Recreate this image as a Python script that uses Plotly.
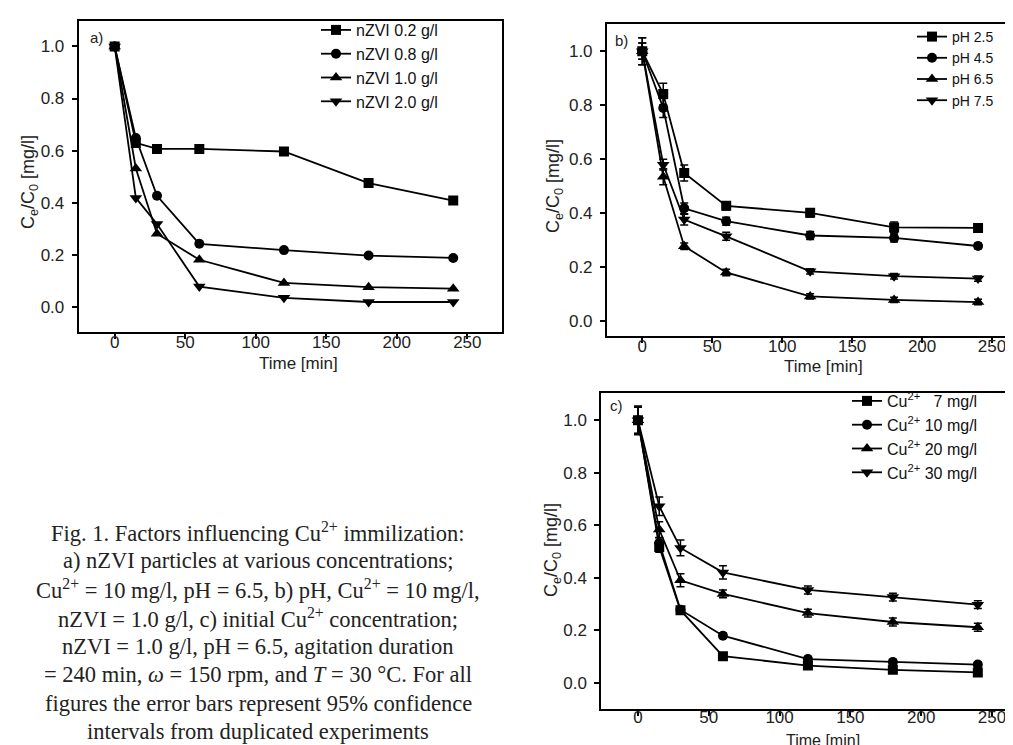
import plotly.graph_objects as go

time = [0, 15, 30, 60, 120, 180, 240]

# a) nZVI dose
nzvi_labels = ['nZVI 0.2 g/l', 'nZVI 0.8 g/l', 'nZVI 1.0 g/l', 'nZVI 2.0 g/l']
nzvi_02 = [1.0, 0.63, 0.607, 0.607, 0.597, 0.476, 0.409]
nzvi_08 = [1.0, 0.649, 0.427, 0.243, 0.219, 0.198, 0.189]
nzvi_10 = [1.0, 0.532, 0.282, 0.182, 0.093, 0.077, 0.071]
nzvi_20 = [1.0, 0.419, 0.319, 0.079, 0.036, 0.020, 0.020]

# b) pH
ph_labels = ['pH 2.5', 'pH 4.5', 'pH 6.5', 'pH 7.5']
ph_25 = [1.0, 0.841, 0.548, 0.426, 0.400, 0.346, 0.344]
ph_45 = [1.0, 0.789, 0.417, 0.369, 0.316, 0.307, 0.277]
ph_65 = [1.0, 0.534, 0.276, 0.179, 0.090, 0.077, 0.069]
ph_75 = [1.0, 0.579, 0.375, 0.313, 0.183, 0.165, 0.156]
ph_25_err = [0.05, 0.04, 0.03, 0.015, 0.015, 0.02, 0.012]
ph_45_err = [0.05, 0.035, 0.02, 0.015, 0.015, 0.015, 0.01]
ph_65_err = [0.03, 0.03, 0.012, 0.012, 0.01, 0.01, 0.01]
ph_75_err = [0.03, 0.02, 0.02, 0.015, 0.01, 0.01, 0.01]

# c) initial Cu2+
cu_labels = ['Cu<sup>2+</sup>   7 mg/l', 'Cu<sup>2+</sup> 10 mg/l',
             'Cu<sup>2+</sup> 20 mg/l', 'Cu<sup>2+</sup> 30 mg/l']
cu_07 = [1.0, 0.518, 0.277, 0.102, 0.066, 0.050, 0.040]
cu_10 = [1.0, 0.533, 0.279, 0.180, 0.091, 0.080, 0.070]
cu_20 = [1.0, 0.584, 0.391, 0.339, 0.266, 0.232, 0.212]
cu_30 = [1.0, 0.673, 0.514, 0.421, 0.354, 0.327, 0.298]
cu_07_err = [0.05, 0.02, 0.012, 0.01, 0.01, 0.01, 0.01]
cu_10_err = [0.05, 0.02, 0.012, 0.01, 0.01, 0.01, 0.01]
cu_20_err = [0.05, 0.03, 0.025, 0.015, 0.015, 0.015, 0.015]
cu_30_err = [0.055, 0.035, 0.03, 0.025, 0.015, 0.015, 0.015]

caption_lines = [
    'Fig. 1. Factors influencing Cu<sup>2+</sup> immilization:',
    'a) nZVI particles at various concentrations;',
    'Cu<sup>2+</sup> = 10 mg/l, pH = 6.5, b) pH, Cu<sup>2+</sup> = 10 mg/l,',
    'nZVI = 1.0 g/l, c) initial Cu<sup>2+</sup> concentration;',
    'nZVI = 1.0 g/l, pH = 6.5, agitation duration',
    '= 240 min, <i>ω</i> = 150 rpm, and <i>T</i> = 30 °C. For all',
    'figures the error bars represent 95% confidence',
    'intervals from duplicated experiments',
]

symbols = ['square', 'circle', 'triangle-up', 'triangle-down']

fig = go.Figure()

def add_panel(n, labels, series, errors=None):
    xa = 'x' if n == 1 else 'x%d' % n
    ya = 'y' if n == 1 else 'y%d' % n
    lg = 'legend' if n == 1 else 'legend%d' % n
    for i, (lab, ys) in enumerate(zip(labels, series)):
        err = None
        if errors is not None:
            err = dict(type='data', array=errors[i], visible=True,
                       color='black', thickness=1.5, width=4)
        fig.add_trace(go.Scatter(
            x=time, y=ys, name=lab, mode='lines+markers',
            line=dict(color='black', width=1.8),
            marker=dict(symbol=symbols[i], size=10 if i < 2 else 11, color='black'),
            error_y=err, xaxis=xa, yaxis=ya, legend=lg))

add_panel(1, nzvi_labels, [nzvi_02, nzvi_08, nzvi_10, nzvi_20])
add_panel(2, ph_labels, [ph_25, ph_45, ph_65, ph_75],
          [ph_25_err, ph_45_err, ph_65_err, ph_75_err])
add_panel(3, cu_labels, [cu_07, cu_10, cu_20, cu_30],
          [cu_07_err, cu_10_err, cu_20_err, cu_30_err])

W, H = 1013, 745
tickfont = dict(family='Liberation Sans, Arial', size=17, color='#222')

def xaxis(dom, rng, anchor, standoff=-11):
    return dict(domain=dom, range=rng, anchor=anchor, showline=True, linewidth=2,
                linecolor='black', mirror=True, ticks='outside', ticklen=5,
                tickwidth=1.5, tickcolor='black', tickvals=[0, 50, 100, 150, 200, 250],
                ticklabelstandoff=standoff, showgrid=False, zeroline=False, tickfont=tickfont)

def yaxis(dom, rng, anchor, mirror):
    return dict(domain=dom, range=rng, anchor=anchor, showline=True, linewidth=2,
                linecolor='black', mirror=mirror, ticks='outside', ticklen=5,
                tickwidth=1.5, tickcolor='black', tickvals=[0, 0.2, 0.4, 0.6, 0.8, 1.0],
                ticklabelstandoff=4, tickformat='.1f', showgrid=False, zeroline=False,
                tickfont=tickfont)

def legend(x_px, y_px, size):
    return dict(x=x_px / W, y=1 - y_px / H, xanchor='left', yanchor='top',
                bgcolor='rgba(0,0,0,0)', borderwidth=0, itemwidth=30,
                font=dict(family='Liberation Sans, Arial', size=size, color='#111'))

def label(text, x_px, y_px, size=17, angle=0, xanchor='center', font='Liberation Sans, Arial'):
    return dict(text=text, x=x_px / W, y=1 - y_px / H, xref='paper', yref='paper',
                showarrow=False, textangle=angle, xanchor=xanchor, yanchor='middle',
                font=dict(family=font, size=size, color='#222'))

ytitle = 'C<sub>e</sub>/C<sub>0</sub> [mg/l]'

annotations = [
    label('a)', 80, 30, 15, xanchor='left'),
    label('b)', 605, 32, 15, xanchor='left'),
    label('c)', 600, 397, 15, xanchor='left'),
    label('Time [min]', 290, 355),
    label('Time [min]', 815, 358),
    label('Time [min]', 815, 732, 16),
    label(ytitle, 21, 174, 18, angle=-90),
    label(ytitle, 546, 178, 18, angle=-90),
    label(ytitle, 544, 542, 18, angle=-90),
]
for i, line in enumerate(caption_lines):
    annotations.append(label(line, 250, 524 + 28.5 * i, 22.5,
                             font='Liberation Serif, Times New Roman'))

fig.update_layout(
    width=W, height=H, margin=dict(l=0, r=0, t=0, b=0),
    paper_bgcolor='white', plot_bgcolor='white', showlegend=True,
    xaxis=xaxis([0.0698, 0.4877], [-25.5, 274.6], 'y'),
    yaxis=yaxis([0.5651, 0.9821], [-0.095, 1.096], 'x', True),
    xaxis2=xaxis([0.5913, 1.0], [-25.2, 270.7], 'y2'),
    yaxis2=yaxis([0.5601, 0.9789], [-0.056, 1.102], 'x2', False),
    xaxis3=xaxis([0.5857, 1.0], [-25.9, 270.5], 'y3', -13),
    yaxis3=yaxis([0.0595, 0.4832], [-0.098, 1.104], 'x3', False),
    legend=legend(308, 5, 16),
    legend2=legend(904, 13, 14),
    legend3=legend(839, 376, 16),
    annotations=annotations,
)

fig.write_html('out.html')
